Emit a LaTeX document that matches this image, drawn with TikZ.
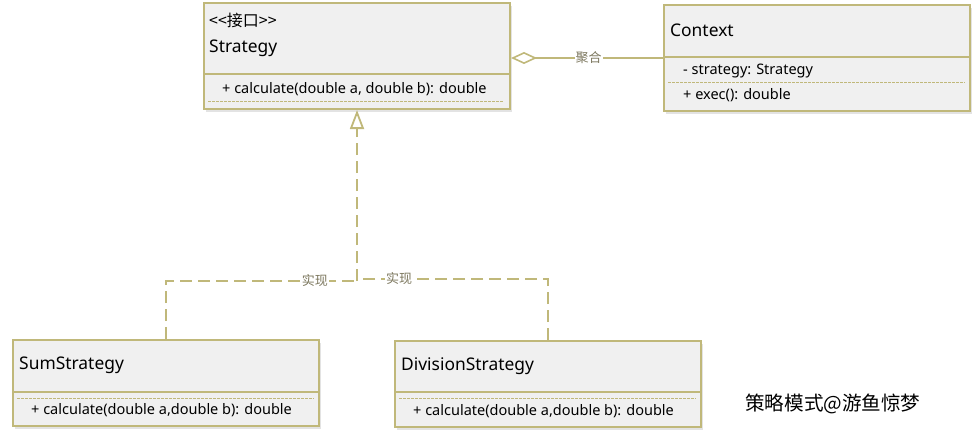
\documentclass[tikz,border=0pt]{standalone}
\usepackage{fontspec}
\setmainfont{Noto Sans}
\newfontfamily\cjk{Noto Sans CJK SC}
\usetikzlibrary{positioning,arrows.meta,calc,shadows}
\definecolor{umlline}{RGB}{192,184,122}
\definecolor{umlfill}{RGB}{240,240,240}
\definecolor{lblgray}{RGB}{125,120,95}

\begin{document}
\begin{tikzpicture}[x=1pt,y=-1pt,
  cls/.style={draw=umlline,line width=2pt,fill=umlfill,anchor=north west,inner sep=0pt,
    minimum width=306pt,drop shadow={opacity=0.22,shadow xshift=1.5pt,shadow yshift=-3pt}},
  title/.style={anchor=west,inner sep=0pt,font=\fontsize{17.4}{19}\selectfont},
  member/.style={anchor=west,inner sep=0pt,font=\fontsize{14.5}{17}\selectfont},
  divider/.style={draw=umlline,line width=1.6pt},
  sep/.style={draw=umlline,line width=0.9pt,dash pattern=on 2.5pt off 1.5pt},
  real/.style={draw=umlline,line width=1.8pt,dash pattern=on 12pt off 6pt},
  lbl/.style={fill=white,inner sep=1pt,text=lblgray,font=\cjk\fontsize{13}{15}\selectfont}]
\useasboundingbox (0,0) rectangle (977,444);

% classes
\node[cls,minimum height=106pt] (strategy) at (203,2) {};
\node[cls,minimum height=106pt] (context) at (663,4) {};
\node[cls,minimum height=86pt] (sum) at (12,339) {};
\node[cls,minimum height=86pt] (div) at (394,340) {};

\draw[divider] (203,74) -- (509,74);
\draw[divider] (663,57) -- (969,57);
\draw[divider] (12,392) -- (318,392);
\draw[divider] (394,392) -- (700,392);
\draw[sep] (208,101) -- (504,101);
\draw[sep] (668,82) -- (965,82);
\draw[sep] (17,398) -- (314,398);
\draw[sep] (399,398) -- (696,398);

\node[title,font=\cjk\fontsize{16}{18}\selectfont] (st-stereo) at (209,20) {<<接口>>};
\node[title] (st-name) at (209,48) {Strategy};
\node[member] (st-calc) at (222,89) {+ calculate(double a, double b): double};
\node[title] (ct-name) at (670,30) {Context};
\node[member] (ct-attr) at (683,71) {- strategy: Strategy};
\node[member] (ct-exec) at (683,95) {+ exec(): double};
\node[title] (sm-name) at (19,365) {SumStrategy};
\node[member] (sm-calc) at (31,410) {+ calculate(double a,double b): double};
\node[title] (dv-name) at (401,366) {DivisionStrategy};
\node[member] (dv-calc) at (413,411) {+ calculate(double a,double b): double};

% relations
\draw[draw=umlline,line width=1.6pt,-{Diamond[open,length=26pt,width=12pt]}]
  (context.west) -- node[lbl,pos=0.49] (agg) {聚合} (context.west -| strategy.east);
\coordinate (jl) at ($(strategy.south)+(0,171)$);
\coordinate (jr) at ($(strategy.south)+(0,169)$);
\draw[real] (sum.north) |- node[lbl,pos=0.89] (impl-l) {实现} (jl);
\draw[real] (div.north) |- node[lbl,pos=0.89] (impl-r) {实现} (jr);
\draw[real,-{Triangle[open,length=19pt,width=14pt]}] (jl) -- (strategy.south);

\node[anchor=west,inner sep=0pt,font=\cjk\fontsize{19.6}{22}\selectfont] (caption) at (745,404) {策略模式@游鱼惊梦};
\end{tikzpicture}
\end{document}
